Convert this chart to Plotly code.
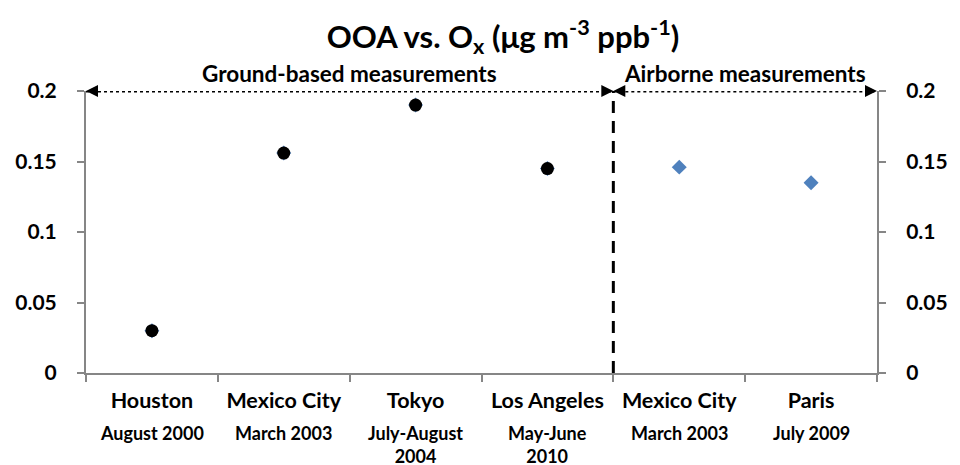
import plotly.graph_objects as go

categories = ["Houston", "Mexico City", "Tokyo", "Los Angeles", "Mexico City ", "Paris"]
tick_names = ["Houston", "Mexico City", "Tokyo", "Los Angeles", "Mexico City", "Paris"]
dates = ["August 2000", "March 2003", "July-August<br>2004", "May-June<br>2010", "March 2003", "July 2009"]
all_values = [0.030, 0.156, 0.190, 0.145, 0.146, 0.135]
ground_idx = [0, 1, 2, 3]
ground_values = [all_values[i] for i in ground_idx]
ground_cats = [categories[i] for i in ground_idx]
split_pos = 3.5
y_ticks = [0, 0.05, 0.1, 0.15, 0.2]

FONT = "Lato"
BLUE = "#4F81BD"
GRAY = "#868686"

fig = go.Figure()
fig.add_trace(go.Scatter(
    x=categories, y=all_values, mode="markers",
    marker=dict(symbol="diamond", size=11.5, color=BLUE),
    showlegend=False, hoverinfo="x+y"))
fig.add_trace(go.Scatter(
    x=ground_cats, y=ground_values, mode="markers",
    marker=dict(symbol="circle", size=13, color="black"),
    showlegend=False, hoverinfo="x+y"))
# invisible trace for right axis
fig.add_trace(go.Scatter(x=[categories[0]], y=[None], yaxis="y2", showlegend=False))

axis_common = dict(
    range=[0, 0.2], tickvals=y_ticks, ticktext=[f"{v:g}" for v in y_ticks],
    showgrid=False, zeroline=False, showline=True, linecolor=GRAY, linewidth=2,
    ticks="outside", ticklen=7, tickwidth=2, tickcolor=GRAY,
    tickfont=dict(family=FONT, size=21, color="black", weight="bold"),
    ticklabelstandoff=16,
)

fig.update_layout(
    width=960, height=465,
    margin=dict(l=86, r=74, t=91, b=92),
    plot_bgcolor="white", paper_bgcolor="white",
    title=dict(
        text="OOA vs. O<sub>x</sub> (μg m<sup>-3</sup> ppb<sup>-1</sup>)",
        x=0.524, xanchor="center", yref="container", y=1 - 37 / 465, yanchor="middle",
        font=dict(family=FONT, size=31, color="black", weight="bold"),
    ),
    xaxis=dict(
        type="category", categoryorder="array", categoryarray=categories,
        range=[-0.5, 5.5], tickson="boundaries",
        showgrid=False, zeroline=False, showline=True, linecolor=GRAY, linewidth=2,
        ticks="outside", ticklen=7, tickwidth=2, tickcolor=GRAY,
        tickvals=categories, ticktext=tick_names,
        tickfont=dict(family=FONT, size=21.5, color="black", weight="bold"),
        ticklabelstandoff=7,
    ),
    yaxis=dict(**axis_common, side="left"),
    yaxis2=dict(**axis_common, side="right", overlaying="y", anchor="x"),
)

# dates under categories
for cat, d in zip(categories, dates):
    fig.add_annotation(x=cat, xref="x", y=0, yref="paper", yshift=-47, text=d,
                       showarrow=False, yanchor="top",
                       font=dict(family=FONT, size=18, color="black", weight="bold"))

# vertical dashed separator
fig.add_shape(type="line", xref="x", yref="y", x0=split_pos, x1=split_pos, y0=0, y1=0.2,
              line=dict(color="black", width=3, dash="12px,8px"))

# dotted range lines
fig.add_shape(type="line", xref="x", yref="y", x0=-0.5, x1=split_pos, y0=0.2, y1=0.2,
              line=dict(color="black", width=3, dash="dot"))
fig.add_shape(type="line", xref="x", yref="y", x0=split_pos, x1=5.5, y0=0.2, y1=0.2,
              line=dict(color="black", width=3, dash="dot"))

# arrowheads
for xp, dx in [(-0.5, 12), (split_pos, -12), (split_pos, 12), (5.5, -12)]:
    fig.add_annotation(x=xp, y=0.2, xref="x", yref="y", ax=dx, ay=0, text="",
                       showarrow=True, arrowhead=2, arrowsize=1.2, arrowwidth=2,
                       arrowcolor="black", standoff=0)

# section labels
fig.add_annotation(x=1.5, y=0.2, xref="x", yref="y", yshift=18, text="Ground-based measurements",
                   showarrow=False, font=dict(family=FONT, size=22.5, color="black", weight="bold"))
fig.add_annotation(x=4.5, y=0.2, xref="x", yref="y", yshift=18, text="Airborne measurements",
                   showarrow=False, font=dict(family=FONT, size=22.5, color="black", weight="bold"))

fig.write_html("out.html")
